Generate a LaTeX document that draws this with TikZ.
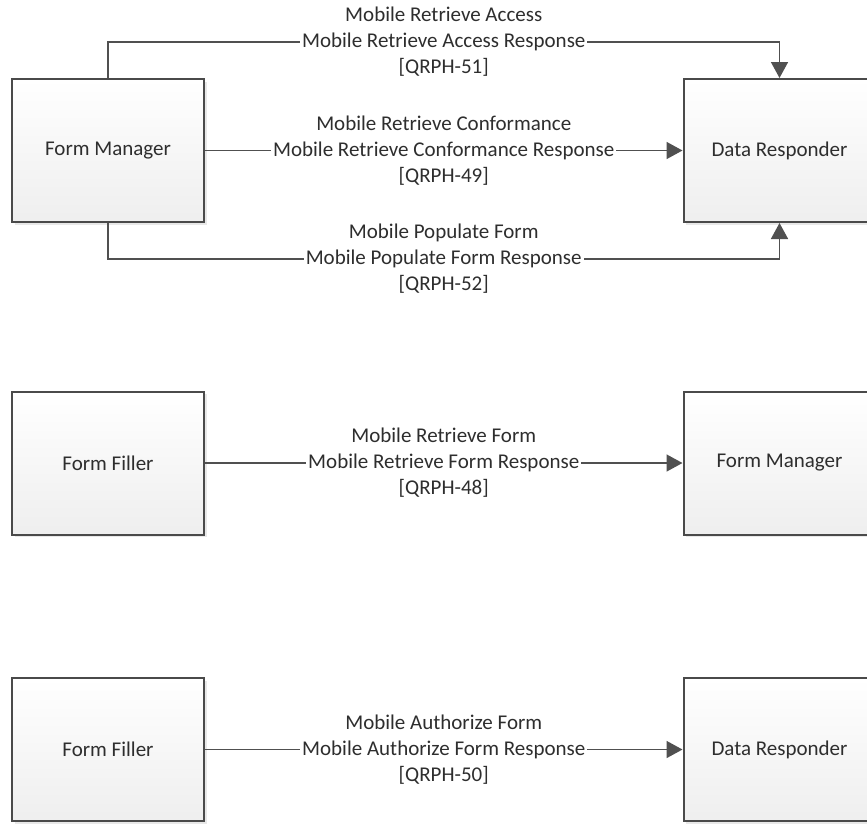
\documentclass[tikz,border=0pt]{standalone}
\usepackage{fontspec}
\setmainfont{Carlito}
\usetikzlibrary{arrows.meta, shadows}
\definecolor{boxline}{HTML}{4A4A4A}
\definecolor{wireline}{HTML}{505050}
\definecolor{inktext}{HTML}{2E2E2E}
\tikzstyle{actor} = [rectangle, draw=boxline, line width=2pt,
   minimum width=192pt, minimum height=143pt,
   top color=white, bottom color=gray!13,
   drop shadow={shadow xshift=2.5pt, shadow yshift=-2.5pt, opacity=0.18},
   text=inktext, font=\fontsize{21}{26}\selectfont]
\tikzstyle{msg} = [fill=white, align=center, inner xsep=2pt, inner ysep=0pt,
   text=inktext, font=\fontsize{21}{26}\selectfont]
\tikzstyle{wire} = [draw=wireline, line width=1.6pt,
   -{Triangle[length=16pt,width=17pt]}]

\begin{document}
\begin{tikzpicture}[x=1pt, y=-1pt, node distance=671.5pt]
  \useasboundingbox (0,0) rectangle (867,823);
  % top row
  \node[actor] (fm) at (108,150.5) {Form Manager};
  \node[actor,right of=fm] (dr) {Data Responder};
  % middle row
  \node[actor] (ff) at (108,463) {Form Filler};
  \node[actor,right of=ff] (fm2) {Form Manager};
  % bottom row
  \node[actor] (ff2) at (108,749.5) {Form Filler};
  \node[actor,right of=ff2] (dr2) {Data Responder};

  % connectors
  \draw[wire] (fm.north) -- ++(0,-36) -| node[msg,pos=0.25]
     {Mobile Retrieve Access\\Mobile Retrieve Access Response\\{[QRPH-51]}} (dr.north);
  \draw[wire] (fm) -- node[msg]
     {Mobile Retrieve Conformance\\Mobile Retrieve Conformance Response\\{[QRPH-49]}} (dr);
  \draw[wire] (fm.south) -- ++(0,36) -| node[msg,pos=0.25]
     {Mobile Populate Form\\Mobile Populate Form Response\\{[QRPH-52]}} (dr.south);
  \draw[wire] (ff) -- node[msg]
     {Mobile Retrieve Form\\Mobile Retrieve Form Response\\{[QRPH-48]}} (fm2);
  \draw[wire] (ff2) -- node[msg]
     {Mobile Authorize Form\\Mobile Authorize Form Response\\{[QRPH-50]}} (dr2);
\end{tikzpicture}
\end{document}
